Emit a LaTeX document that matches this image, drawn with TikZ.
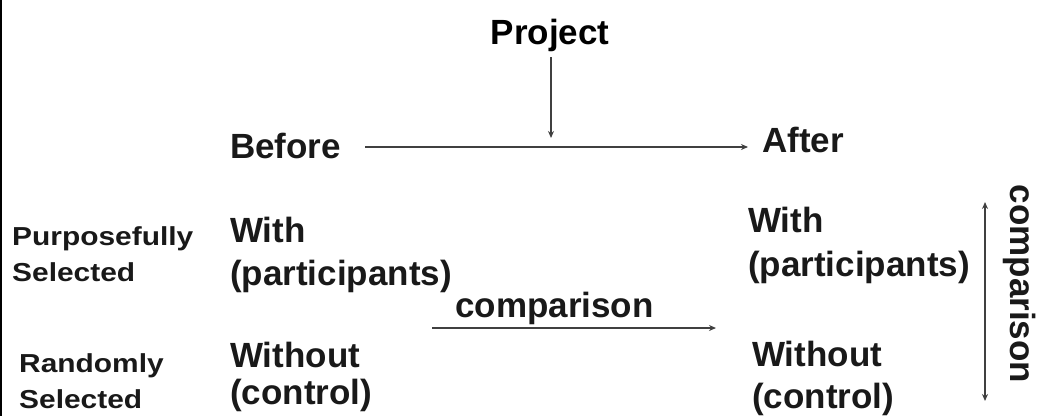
\documentclass[tikz,border=0pt]{standalone}
\usepackage{fontspec}
\setmainfont{Liberation Sans}
\usetikzlibrary{arrows.meta}
\begin{document}
\begin{tikzpicture}[x=1pt,y=-1pt,
  main/.style={anchor=base west,inner sep=0pt,font=\fontsize{35}{40}\selectfont\bfseries,text=black!90},
  side/.style={anchor=base west,inner sep=0pt,font=\fontsize{26}{30}\selectfont\bfseries,text=black!90,xscale=1.15,transform shape},
  conn/.style={draw=black!75,line width=1.3pt,-{Stealth[length=7pt,width=6pt]}}]
\useasboundingbox (0,0) rectangle (1041,416);
\draw[line width=2.5pt] (1,0) -- (1,416);
% top
\node[anchor=base,inner sep=0pt,font=\fontsize{35}{40}\selectfont\bfseries] (project) at (550,44) {Project};
\coordinate (ptip) at (551,138);
\draw[conn] (551,57) coordinate (pstart) -- (ptip);
\node[main] (before) at (230,158) {Before};
\node[main] (after) at (762,152) {After};
\coordinate (hstart) at (365,147);
\coordinate (hend) at (748,147);
\draw[conn] (hstart) -- (hend);
% left labels
\node[side] (purp) at (12,245) {Purposefully};
\node[side] (sel1) at (12,281) {Selected};
\node[side] (rand) at (19,372) {Randomly};
\node[side] (sel2) at (19,408) {Selected};
% before column
\node[main] (with1) at (230,242) {With};
\node[main] (part1) at (230,285) {(participants)};
\node[main] (without1) at (230,367) {Without};
\node[main] (control1) at (230,404) {(control)};
% after column
\node[main] (with2) at (748,232) {With};
\node[main] (part2) at (748,276) {(participants)};
\node[main] (without2) at (752,366) {Without};
\node[main] (control2) at (752,408) {(control)};
% middle comparison
\node[main] (cmp1) at (455,317) {comparison};
\coordinate (cstart) at (432,328);
\coordinate (cend) at (716,328);
\draw[conn] (cstart) -- (cend);
% right comparison
\coordinate (vtop) at (985,202);
\coordinate (vbot) at (985,401);
\draw[conn,{Stealth[length=7pt,width=6pt]}-{Stealth[length=7pt,width=6pt]}] (vtop) -- (vbot);
\node[rotate=-90,inner sep=0pt,font=\fontsize{35}{40}\selectfont\bfseries,text=black!90] (cmp2) at (1020,284) {comparison};
\end{tikzpicture}
\end{document}
